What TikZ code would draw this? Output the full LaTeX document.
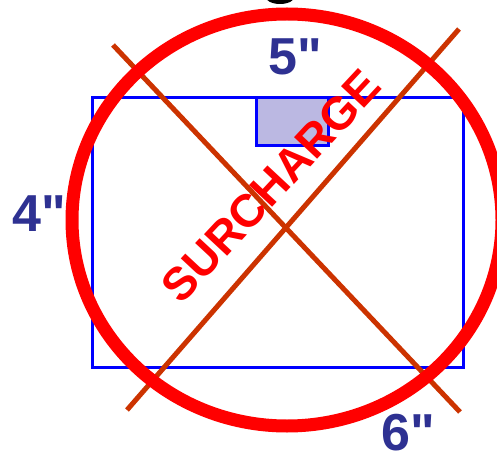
\documentclass[tikz,border=0pt]{standalone}
\usepackage{fontspec}
\setmainfont{Liberation Sans}
\newfontfamily\dimfont{Liberation Sans}
\definecolor{dimblue}{HTML}{2E3192}
\definecolor{rust}{HTML}{CC3300}
\definecolor{lav}{HTML}{BBB8E2}
\begin{document}
\begin{tikzpicture}[x=1pt,y=-1pt,
  dimlabel/.style={text=dimblue, inner sep=0pt, font=\dimfont\bfseries\fontsize{52}{52}\selectfont},
  bluebox/.style={draw=blue, line width=3pt},
  tabbox/.style={draw=blue, fill=lav, line width=3pt},
  crossline/.style={draw=rust, line width=5pt},
  ring/.style={draw=red, line width=13pt},
  stamp/.style={text=red, inner sep=0pt, font=\bfseries\fontsize{46}{46}\selectfont}]
\useasboundingbox (0,0) rectangle (497,454);
\clip (0,0) rectangle (497,454);
% cut-off glyph at the top
\fill[black] (280,-4) ellipse [x radius=15pt, y radius=8pt];
% sheet outline and tab
\draw[bluebox] (92,98) rectangle (463,367);
\draw[tabbox] (256,98) rectangle (328,146);
% cross
\coordinate (a1) at (113,45);
\coordinate (a2) at (460,412);
\coordinate (b1) at (127,410);
\coordinate (b2) at (459,29);
\draw[crossline] (a1) -- (a2);
\draw[crossline] (b1) -- (b2);
% labels
\node[dimlabel] (five) at (295,57) {5"};
\node[dimlabel] (four) at (39,214) {4"};
\node[dimlabel] (six) at (408,433) {6"};
\node[stamp, rotate=47] (sur) at (271,186) {SURCHARGE};
% ring
\draw[ring] (287,220) ellipse [x radius=215pt, y radius=206pt];
\end{tikzpicture}
\end{document}
